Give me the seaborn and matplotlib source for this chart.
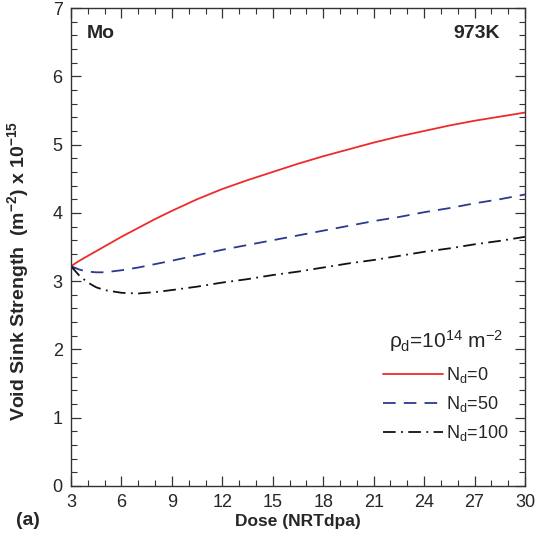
import numpy as np
import pandas as pd
import matplotlib
matplotlib.use("Agg")
import matplotlib.pyplot as plt
import seaborn as sns
from matplotlib.ticker import MultipleLocator

dose = [3, 3.5, 4, 4.5, 5, 6, 7, 8, 9, 10.5, 12, 13.5, 15, 16.5, 18, 19.5, 21, 22.5, 24, 25.5, 27, 28.5, 30]
nd0 = [3.22, 3.30, 3.37, 3.44, 3.51, 3.65, 3.78, 3.91, 4.03, 4.20, 4.35, 4.48, 4.60, 4.72, 4.83, 4.93, 5.03, 5.12, 5.20, 5.28, 5.35, 5.41, 5.47]
nd50 = [3.22, 3.17, 3.14, 3.13, 3.13, 3.16, 3.20, 3.25, 3.30, 3.38, 3.46, 3.53, 3.60, 3.67, 3.74, 3.81, 3.88, 3.94, 4.01, 4.07, 4.14, 4.20, 4.27]
nd100 = [3.22, 3.08, 2.98, 2.91, 2.87, 2.83, 2.82, 2.84, 2.87, 2.92, 2.98, 3.03, 3.09, 3.14, 3.20, 3.26, 3.31, 3.37, 3.43, 3.48, 3.54, 3.59, 3.65]
labels = [r'N$_d$=0', r'N$_d$=50', r'N$_d$=100']
colors = ['#ee2a2a', '#2b3990', '#111111']

df = pd.concat([
    pd.DataFrame({'Dose': dose, 'S': vals, 'Series': lab})
    for vals, lab in zip([nd0, nd50, nd100], labels)
])

sns.set_theme(style='white')
plt.rcParams['font.family'] = ['Liberation Sans', 'DejaVu Sans']
plt.rcParams['mathtext.fontset'] = 'custom'
plt.rcParams['mathtext.rm'] = 'Liberation Sans'
plt.rcParams['mathtext.it'] = 'Liberation Sans'
plt.rcParams['mathtext.bf'] = 'Liberation Sans:bold'

fig = plt.figure(figsize=(5.44, 5.40), dpi=100)
ax = fig.add_axes([0.1305, 0.1, 0.8345, 0.885])

sns.lineplot(data=df, x='Dose', y='S', hue='Series', style='Series',
             palette=dict(zip(labels, colors)),
             dashes={labels[0]: '', labels[1]: (7, 4.5), labels[2]: (7, 3, 1, 3)},
             linewidth=1.3, ax=ax)

ax.set_xlim(3, 30)
ax.set_ylim(0, 7)
ax.xaxis.set_major_locator(MultipleLocator(3))
ax.xaxis.set_minor_locator(MultipleLocator(1))
ax.yaxis.set_major_locator(MultipleLocator(1))
ax.yaxis.set_minor_locator(MultipleLocator(0.2))
ax.tick_params(which='both', direction='in', top=True, right=True, bottom=True, left=True,
               color='#333333')
ax.tick_params(which='major', length=7, width=0.9, labelsize=13, pad=6)
ax.tick_params(which='minor', length=4, width=0.8)
for s in ax.spines.values():
    s.set_color('#333333')
    s.set_linewidth(1.0)

ax.set_xlabel('Dose (NRTdpa)', fontsize=12.5, fontweight='bold', labelpad=2)
ax.set_ylabel(r'Void Sink Strength  (m$^{\mathbf{-2}}$) x 10$^{\mathbf{-15}}$',
              fontsize=14, fontweight='bold')
ax.yaxis.set_label_coords(-0.088, 0.45)

ax.text(0.035, 0.965, 'Mo', transform=ax.transAxes, fontsize=14, fontweight='bold',
        va='top', ha='left')
ax.text(0.945, 0.965, '973K', transform=ax.transAxes, fontsize=14, fontweight='bold',
        va='top', ha='right')
fig.text(0.03, 0.02, '(a)', fontsize=14, fontweight='bold', ha='left', va='bottom')

leg = ax.legend(title=r'$\rho_d$=10$^{14}$ m$^{-2}$', loc='lower right',
                bbox_to_anchor=(1.0, 0.055), frameon=False, fontsize=13,
                title_fontsize=15, handlelength=3.3, labelspacing=0.5, handletextpad=0.2)
leg._legend_box.sep = 8

fig.savefig('out.png', dpi=100)
